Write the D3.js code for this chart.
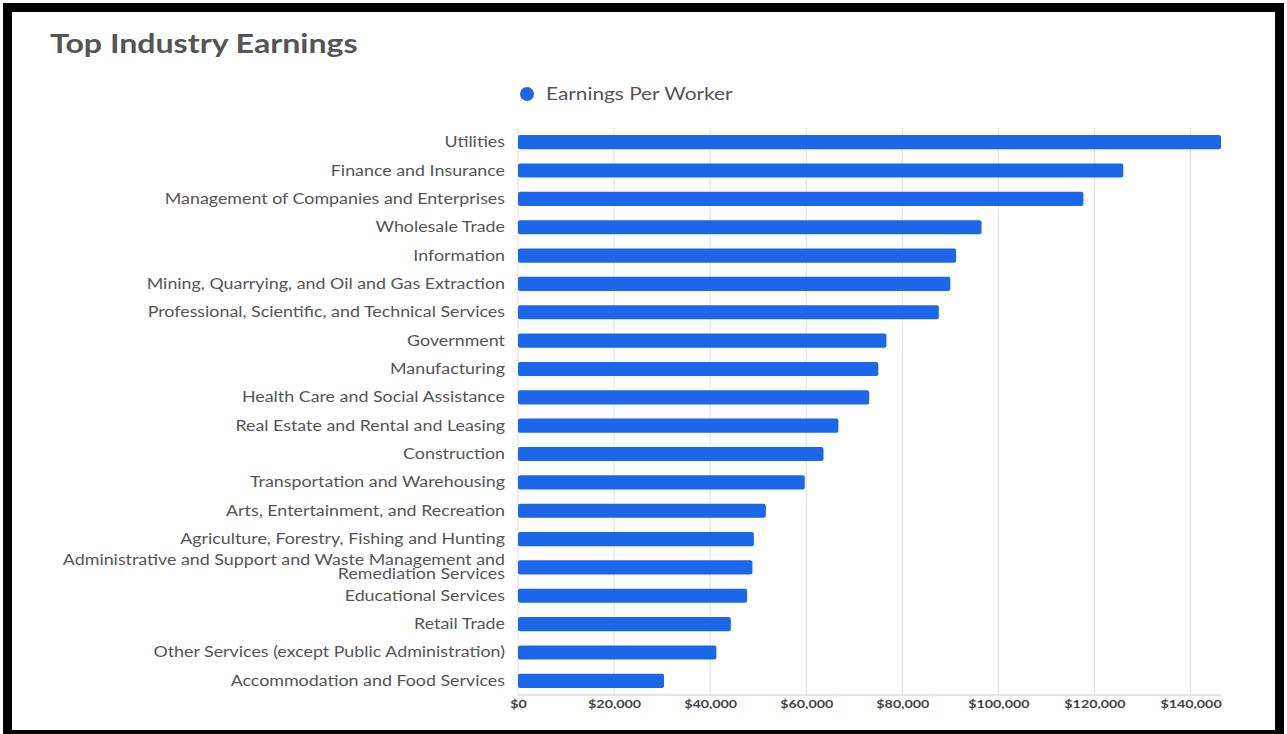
<html lang="en">

<head>
  <meta charset="utf-8">
  <title>Top Industry Earnings</title>
  <script type="text/javascript" src="https://d3js.org/d3.v7.min.js"></script>
  <style>
    body { margin: 0; background: #fff; }
    text { font-family: Lato, "Open Sans", sans-serif; }
  </style>
</head>

<body>
  <svg width="1287" height="734"></svg>
  <script>
    const industries = [
      "Utilities",
      "Finance and Insurance",
      "Management of Companies and Enterprises",
      "Wholesale Trade",
      "Information",
      "Mining, Quarrying, and Oil and Gas Extraction",
      "Professional, Scientific, and Technical Services",
      "Government",
      "Manufacturing",
      "Health Care and Social Assistance",
      "Real Estate and Rental and Leasing",
      "Construction",
      "Transportation and Warehousing",
      "Arts, Entertainment, and Recreation",
      "Agriculture, Forestry, Fishing and Hunting",
      "Administrative and Support and Waste Management and Remediation Services",
      "Educational Services",
      "Retail Trade",
      "Other Services (except Public Administration)",
      "Accommodation and Food Services"
    ];
    const earnings = [
      146340, 126000, 117700, 96500, 91200, 90000, 87600, 76700, 75000, 73100,
      66700, 63600, 59700, 51600, 49100, 48800, 47700, 44300, 41300, 30400
    ];
    const tickValues = [0, 20000, 40000, 60000, 80000, 100000, 120000, 140000];
    const seriesName = "Earnings Per Worker";

    const barColor = "#1c66ea";
    const stretch = 1.19; // the reference text is a little wide
    const svg = d3.select("svg");

    // frame
    svg.append("rect").attr("x", 3).attr("y", 3).attr("width", 1281).attr("height", 740).attr("fill", "#000");
    svg.append("rect").attr("x", 12).attr("y", 12).attr("width", 1263).attr("height", 718).attr("fill", "#fff");

    svg.append("text")
      .attr("transform", `translate(50,53) scale(${stretch},1)`)
      .attr("font-size", 27).attr("font-weight", "bold")
      .attr("fill", "#555")
      .text("Top Industry Earnings");

    // legend
    svg.append("circle").attr("cx", 527).attr("cy", 94).attr("r", 7).attr("fill", barColor);
    svg.append("text")
      .attr("transform", `translate(546,99.5) scale(${stretch},1)`)
      .attr("font-size", 17.5).attr("fill", "#555")
      .text(seriesName);

    const data = industries.map((d, i) => ({ name: d, value: earnings[i] }));

    const x = d3.scaleLinear()
      .domain([0, d3.max(earnings)])
      .range([518, 1221]);

    const y = d3.scaleBand()
      .domain(industries)
      .range([128, 695])
      .paddingInner(0.5)
      .paddingOuter(0.25);

    // grid
    svg.append("g")
      .selectAll("line")
      .data(tickValues)
      .join("line")
      .attr("x1", d => x(d)).attr("x2", d => x(d))
      .attr("y1", 128).attr("y2", 695)
      .attr("stroke", "#ddd").attr("stroke-width", 1);

    svg.append("line")
      .attr("x1", 518).attr("x2", 1221)
      .attr("y1", 695).attr("y2", 695)
      .attr("stroke", "#ccc");

    const xAxis = svg.append("g")
      .attr("transform", "translate(0,695)")
      .call(d3.axisBottom(x).tickValues(tickValues).tickFormat(d3.format("$,.0f")).tickSize(0).tickPadding(4));
    xAxis.select(".domain").remove();
    xAxis.selectAll("text")
      .attr("font-family", "Lato, sans-serif")
      .attr("transform", `scale(${stretch},1)`)
      .attr("font-size", 12).attr("font-weight", "bold").attr("fill", "#444");

    svg.append("g")
      .selectAll("rect")
      .data(data)
      .join("rect")
      .attr("x", x(0))
      .attr("y", d => y(d.name))
      .attr("width", d => x(d.value) - x(0))
      .attr("height", y.bandwidth())
      .attr("rx", 2)
      .attr("fill", barColor);

    // category labels, wrapped
    const labels = svg.append("g")
      .selectAll("text")
      .data(data)
      .join("text")
      .attr("transform", d => `translate(505,${y(d.name) + y.bandwidth() / 2}) scale(${stretch},1)`)
      .attr("text-anchor", "end")
      .attr("font-size", 15)
      .attr("fill", "#555");

    labels.each(function (d) {
      const t = d3.select(this);
      const words = d.name.split(" ");
      const lines = [];
      let line = [];
      const probe = t.append("tspan");
      words.forEach(w => {
        line.push(w);
        probe.text(line.join(" "));
        if (probe.node().getComputedTextLength() > 390 && line.length > 1) {
          line.pop();
          lines.push(line.join(" "));
          line = [w];
        }
      });
      lines.push(line.join(" "));
      probe.remove();
      const lh = 14;
      lines.forEach((l, i) => {
        t.append("tspan")
          .attr("x", 0)
          .attr("y", 5 + (i - (lines.length - 1) / 2) * lh)
          .text(l);
      });
    });
  </script>
</body>

</html>
